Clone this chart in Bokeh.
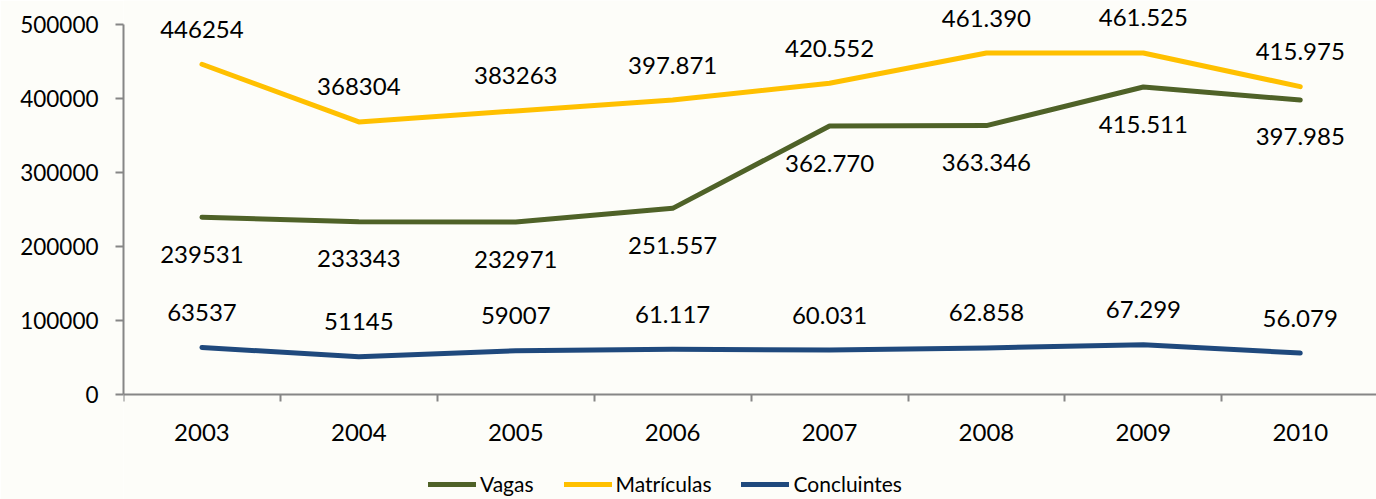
from bokeh.plotting import figure
from bokeh.models import (Range1d, FixedTicker, NumeralTickFormatter, Legend, LegendItem,
                          ColumnDataSource)
from bokeh.core.properties import value
from bokeh.embed import file_html
from bokeh.resources import INLINE

years = [2003, 2004, 2005, 2006, 2007, 2008, 2009, 2010]
vagas = [239531, 233343, 232971, 251557, 362770, 363346, 415511, 397985]
matriculas = [446254, 368304, 383263, 397871, 420552, 461390, 461525, 415975]
concluintes = [63537, 51145, 59007, 61117, 60031, 62858, 67299, 56079]
vagas_labels = ["239531", "233343", "232971", "251.557", "362.770", "363.346", "415.511", "397.985"]
matriculas_labels = ["446254", "368304", "383263", "397.871", "420.552", "461.390", "461.525", "415.975"]
concluintes_labels = ["63537", "51145", "59007", "61.117", "60.031", "62.858", "67.299", "56.079"]
y_ticks = [0, 100000, 200000, 300000, 400000, 500000]

FONT = "Lato"
BG = "#FDFDF9"
AXIS = "#868686"

W, H = 1376, 499
LEFT = 123
ZERO_Y = 394          # screen row of the value 0
frame_w = W - LEFT
px_per_cat = 156.9
px_per_100k = 74.0

x_start = years[0] - 0.5
x_end = x_start + frame_w / px_per_cat
y_end = ZERO_Y / px_per_100k * 100000
y_start = -(H - ZERO_Y) / px_per_100k * 100000

p = figure(width=W, height=H, output_backend="svg", toolbar_location=None,
           x_range=Range1d(x_start, x_end), y_range=Range1d(y_start, y_end),
           min_border_left=LEFT, min_border_bottom=0, min_border_top=0, min_border_right=0)
p.background_fill_color = BG
p.border_fill_color = BG
p.outline_line_color = None
p.xgrid.visible = False
p.ygrid.visible = False

# axes
xa = p.xaxis[0]
xa.fixed_location = 0
xa.ticker = FixedTicker(ticks=years, minor_ticks=[y - 0.5 for y in years] + [years[-1] + 0.5])
xa.major_tick_line_color = None
xa.major_tick_out = 0
xa.major_tick_in = 0
xa.minor_tick_line_color = AXIS
xa.minor_tick_line_width = 2
xa.minor_tick_out = 7
xa.minor_tick_in = 0
xa.axis_line_color = AXIS
xa.axis_line_width = 2
xa.major_label_standoff = 22
xa.major_label_text_font = FONT
xa.major_label_text_font_size = "24px"
xa.major_label_text_color = "black"

ya = p.yaxis[0]
ya.ticker = FixedTicker(ticks=y_ticks, minor_ticks=[])
ya.formatter = NumeralTickFormatter(format="0")
ya.bounds = (0, 500000)
ya.axis_line_color = AXIS
ya.axis_line_width = 2
ya.major_tick_line_color = AXIS
ya.major_tick_line_width = 2
ya.major_tick_out = 8
ya.major_tick_in = 0
ya.minor_tick_line_color = None
ya.major_label_standoff = 17
ya.major_label_text_font = FONT
ya.major_label_text_font_size = "22.5px"
ya.major_label_text_color = "black"

series = [
    ("Vagas", vagas, vagas_labels, "#4F6228", 37),
    ("Matrículas", matriculas, matriculas_labels, "#FFC000", -35),
    ("Concluintes", concluintes, concluintes_labels, "#1F497D", -35),
]

items = []
for name, vals, labels, color, off in series:
    src = ColumnDataSource(dict(x=years, y=vals, lab=labels))
    r = p.line("x", "y", source=src, line_color=color, line_width=5,
               line_cap="round", line_join="round")
    p.text("x", "y", text="lab", source=src, y_offset=off,
           text_align="center", text_baseline="middle",
           text_font=value(FONT), text_font_size="24px", text_color="black")
    items.append(LegendItem(label=name, renderers=[r]))

legend = Legend(items=items, orientation="horizontal", location=(305, 3))
legend.background_fill_alpha = 0
legend.border_line_color = None
legend.padding = 0
legend.margin = 0
legend.spacing = 30
legend.glyph_width = 48
legend.glyph_height = 20
legend.label_standoff = 4
legend.label_text_font = FONT
legend.label_text_font_size = "21px"
legend.label_text_color = "black"
p.add_layout(legend, "center")

open("out.html", "w").write(file_html(p, INLINE))
